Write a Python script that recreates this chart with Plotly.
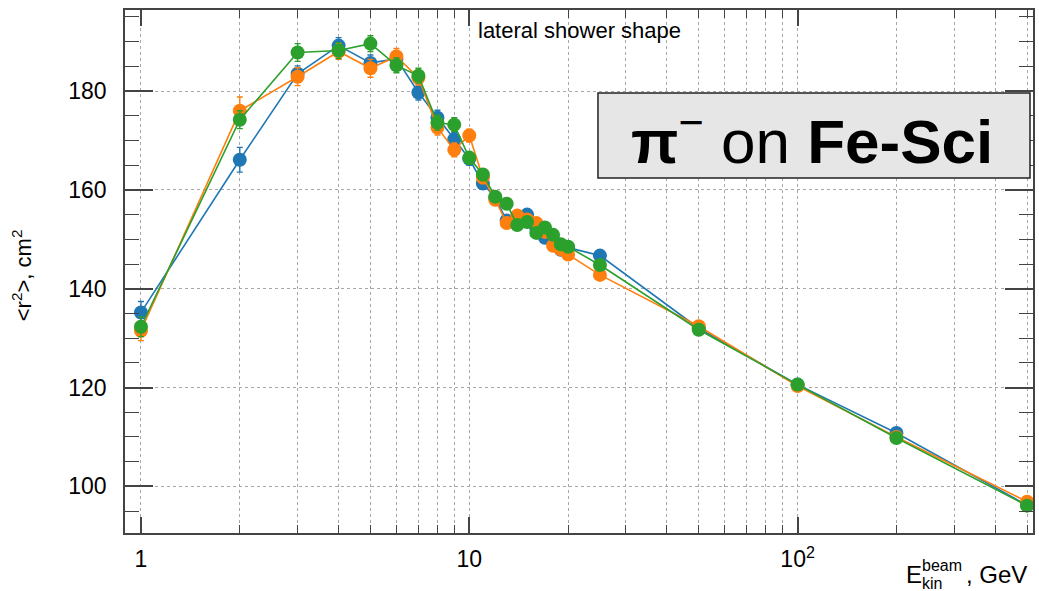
import plotly.graph_objects as go

# ---- data ----
energy = [1, 2, 3, 4, 5, 6, 7, 8, 9, 10, 11, 12, 13, 14, 15, 16, 17, 18, 19, 20, 25, 50, 100, 200, 500]

r2_blue = [135.2, 166.1, 183.5, 189.2, 185.7, 186.5, 179.7, 174.6, 170.2, 166.3, 161.3, 158.4, 153.8,
           153.5, 155.0, 152.2, 150.3, 149.8, 147.9, 148.3, 146.7, 132.0, 120.6, 110.8, 96.2]
r2_orange = [131.5, 176.0, 182.9, 188.0, 184.6, 187.0, 182.7, 172.6, 168.1, 171.0, 162.5, 158.0, 153.3,
             154.8, 154.0, 153.3, 151.5, 148.7, 148.0, 146.9, 142.8, 132.4, 120.3, 110.0, 96.9]
r2_green = [132.3, 174.2, 187.8, 188.2, 189.6, 185.2, 183.1, 173.6, 173.2, 166.5, 163.1, 158.6, 157.2,
            152.9, 153.5, 151.3, 152.4, 150.9, 149.0, 148.5, 144.8, 131.7, 120.6, 109.8, 96.1]

err_blue = [2.2, 2.5, 1.6, 1.6, 1.6, 1.5, 1.5, 1.5, 1.4, 1.3, 1.2, 1.1, 1.0, 1.0, 1.0, 1.0, 1.0, 1.0,
            0.9, 0.9, 0.9, 0.5, 0.5, 0.5, 0.5]
err_orange = [2.0, 2.8, 1.8, 1.6, 1.8, 1.6, 1.5, 1.5, 1.4, 1.3, 1.2, 1.1, 1.0, 1.0, 1.0, 1.0, 1.0, 1.0,
              0.9, 0.9, 0.9, 0.5, 0.5, 0.5, 0.5]
err_green = [2.0, 1.8, 1.8, 1.6, 1.6, 1.5, 1.5, 1.5, 1.4, 1.3, 1.2, 1.1, 1.0, 1.0, 1.0, 1.0, 1.0, 1.0,
             0.9, 0.9, 0.9, 0.5, 0.5, 0.5, 0.5]

x_major_ticks = [1, 10, 100]
x_major_labels = ["1", "10", "10<sup>2</sup>"]
x_minor_ticks = [2, 3, 4, 5, 6, 7, 8, 9, 20, 30, 40, 50, 60, 70, 80, 90, 200, 300, 400, 500]
y_major_ticks = [100, 120, 140, 160, 180]

series = [
    (r2_blue, err_blue, "#1f77b4"),
    (r2_orange, err_orange, "#ff7f0e"),
    (r2_green, err_green, "#2ca02c"),
]

fig = go.Figure()
for vals, errs, color in series:
    fig.add_trace(go.Scatter(
        x=energy, y=vals, mode="lines+markers",
        line=dict(color=color, width=1.6),
        marker=dict(size=14, color=color),
        error_y=dict(type="data", array=errs, color=color, thickness=1.4, width=3),
        showlegend=False,
    ))

axis_col = "#444444"
grid_col = "#a8a8a8"

fig.update_layout(
    width=1039, height=591,
    margin=dict(l=125, r=4, t=10, b=58),
    plot_bgcolor="white", paper_bgcolor="white",
    font=dict(family="Liberation Sans, Arial, sans-serif", color="black"),
)

fig.update_xaxes(
    type="log", range=[-0.0486, 2.717],
    tickvals=x_major_ticks, ticktext=x_major_labels,
    ticks="inside", ticklen=16, tickwidth=1.5, tickcolor=axis_col,
    showline=True, linecolor=axis_col, linewidth=1.5, mirror="ticks",
    showgrid=True, gridcolor=grid_col, griddash="dot", gridwidth=1,
    tickfont=dict(size=23), zeroline=False, ticklabelstandoff=5,
    minor=dict(tickvals=x_minor_ticks, ticks="inside", ticklen=8, tickwidth=1.2,
               tickcolor=axis_col, showgrid=True, gridcolor=grid_col,
               griddash="dot", gridwidth=1),
)

fig.update_yaxes(
    range=[90.57, 196.4],
    tickvals=y_major_ticks,
    ticks="inside", ticklen=28, tickwidth=1.5, tickcolor=axis_col,
    showline=True, linecolor=axis_col, linewidth=1.5, mirror="ticks",
    showgrid=True, gridcolor=grid_col, griddash="dot", gridwidth=1,
    tickfont=dict(size=23), zeroline=False, ticklabelstandoff=12,
    minor=dict(dtick=5, ticks="inside", ticklen=14, tickwidth=1.2,
               tickcolor=axis_col, showgrid=False),
)

# label box
fig.add_shape(type="rect", xref="paper", yref="paper",
              x0=0.5209, x1=0.9967, y0=0.6788, y1=0.8413,
              fillcolor="#e6e6e6", line=dict(color="#222222", width=1.5), layer="above")

fig.add_annotation(xref="paper", yref="paper", x=0.7566, y=0.757,
                   xanchor="center", yanchor="middle", showarrow=False,
                   text="<b>π</b><sup>−</sup> on <b>Fe-Sci</b>",
                   font=dict(size=62, color="black"))

fig.add_annotation(xref="paper", yref="paper", x=0.5, y=0.96,
                   xanchor="center", yanchor="middle", showarrow=False,
                   text="lateral shower shape", font=dict(size=22, color="black"))

# x-axis title built from pieces
def px_x(px):
    return (px - 125) / 910.0

def px_y(py):
    return (533 - py) / 523.0

fig.add_annotation(xref="paper", yref="paper", x=px_x(906), y=px_y(574),
                   xanchor="left", yanchor="middle", showarrow=False,
                   text="E", font=dict(size=24))
fig.add_annotation(xref="paper", yref="paper", x=px_x(922), y=px_y(565),
                   xanchor="left", yanchor="middle", showarrow=False,
                   text="beam", font=dict(size=16))
fig.add_annotation(xref="paper", yref="paper", x=px_x(922), y=px_y(583),
                   xanchor="left", yanchor="middle", showarrow=False,
                   text="kin", font=dict(size=16))
fig.add_annotation(xref="paper", yref="paper", x=px_x(966), y=px_y(574),
                   xanchor="left", yanchor="middle", showarrow=False,
                   text=", GeV", font=dict(size=24))

# y-axis title
fig.add_annotation(xref="paper", yref="paper", x=px_x(22), y=px_y(275),
                   xanchor="center", yanchor="middle", showarrow=False, textangle=-90,
                   text="&lt;r<sup>2</sup>&gt;, cm<sup>2</sup>", font=dict(size=22))

fig.write_html("out.html", config={"displayModeBar": False},
               post_script="document.body.style.margin='0';document.body.style.overflow='hidden';")
